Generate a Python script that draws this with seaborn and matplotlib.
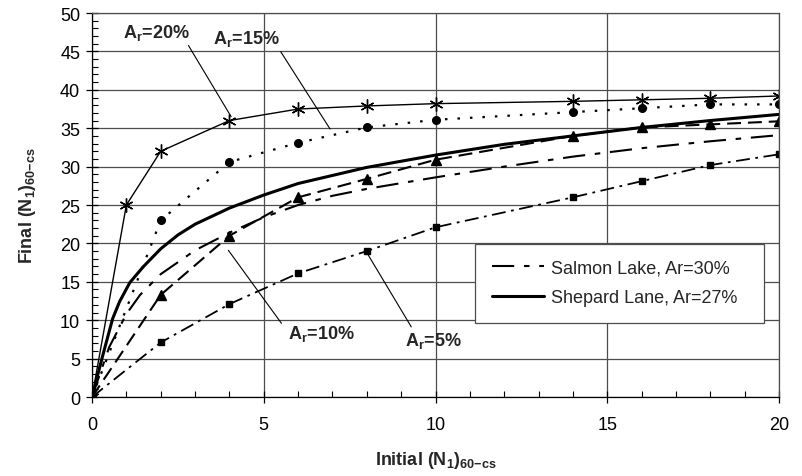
import matplotlib
matplotlib.use("Agg")
import matplotlib.pyplot as plt
from matplotlib.ticker import MultipleLocator
import seaborn as sns

X_MARK = [0, 1, 2, 4, 6, 8, 10, 14, 16, 18, 20]
AR20 = [0, 25.0, 32.0, 36.0, 37.5, 37.9, 38.2, 38.5, 38.7, 38.9, 39.2]
X_MARK2 = [0, 2, 4, 6, 8, 10, 14, 16, 18, 20]
AR15 = [0, 23.0, 30.6, 33.1, 35.1, 36.1, 37.1, 37.6, 38.1, 38.1]
AR10 = [0, 13.3, 21.0, 26.0, 28.4, 30.9, 34.0, 35.1, 35.5, 35.9]
AR5 = [0, 7.1, 12.1, 16.1, 19.0, 22.1, 26.0, 28.1, 30.2, 31.6]

X_SALMON = [0, 0.5, 1, 1.4, 2, 3, 4, 5, 6, 7, 8, 10, 12, 14, 16, 18, 20]
SALMON = [0, 6.5, 10.8, 13.3, 16.0, 19.1, 21.4, 23.4, 25.0, 26.2, 27.1, 28.6,
          30.0, 31.3, 32.4, 33.3, 34.1]
X_SHEPARD = [0, 0.3, 0.6, 0.8, 1.1, 1.5, 2, 2.5, 3, 4, 5, 6, 8, 10, 12, 14,
             16, 18, 20]
SHEPARD = [0, 5.2, 10.2, 12.4, 14.9, 17.0, 19.3, 21.1, 22.5, 24.6, 26.3, 27.8,
           29.9, 31.5, 32.9, 34.0, 35.1, 36.0, 36.8]

LEGEND_LABELS = ["Salmon Lake, Ar=30%", "Shepard Lane, Ar=27%"]
AR_LABELS = [r"A$\mathbf{_r}$=20%", r"A$\mathbf{_r}$=15%",
             r"A$\mathbf{_r}$=10%", r"A$\mathbf{_r}$=5%"]
# text centre, point the leader goes to, where the leader leaves the text box
AR_TEXT_POS = [(1.88, 47.5), (4.50, 46.7), (6.68, 8.3), (9.93, 7.4)]
AR_LEADER_END = [(4.05, 36.5), (6.93, 34.9), (3.97, 19.1), (8.0, 18.8)]
AR_RELPOS = [(0.93, 0.1), (0.97, 0.05), (-0.1, 1.0), (0.15, 1.0)]

sns.set_style("white")
plt.rcParams["font.family"] = ["Liberation Sans", "DejaVu Sans"]
plt.rcParams["mathtext.fontset"] = "custom"
plt.rcParams["mathtext.rm"] = "Liberation Sans"
plt.rcParams["mathtext.bf"] = "Liberation Sans:bold"
plt.rcParams["mathtext.it"] = "Liberation Sans:italic"
plt.rcParams["lines.scale_dashes"] = False

fig = plt.figure(figsize=(8.03, 4.77), dpi=100)
ax = fig.add_axes([0.1146, 0.1656, 0.8555, 0.805])


def draw(xs, ys, lw, dashes=None, marker=None, ms=0):
    sns.lineplot(x=xs, y=ys, ax=ax, color="black", lw=lw, marker=marker,
                 markersize=ms, mec="black", mfc="black", mew=1.0,
                 errorbar=None, legend=False)
    line = ax.lines[-1]
    if dashes:
        line.set_dashes(dashes)
    return line


draw(X_MARK, AR20, 1.0, marker=(6, 2, 0), ms=10)
draw(X_MARK2, AR15, 1.6, dashes=(1.8, 7.2), marker="o", ms=5.5)
draw(X_MARK2, AR10, 1.5, dashes=(10, 5), marker="^", ms=7)
draw(X_MARK2, AR5, 1.3, dashes=(10, 4, 2, 4), marker="s", ms=4.5)
salmon_line = draw(X_SALMON, SALMON, 1.5, dashes=(16, 7, 4, 7))
shepard_line = draw(X_SHEPARD, SHEPARD, 2.2)

for txt, pos, end, rel in zip(AR_LABELS, AR_TEXT_POS, AR_LEADER_END, AR_RELPOS):
    ax.annotate(txt, xy=end, xytext=pos, ha="center", va="center",
                fontsize=13, fontweight="bold",
                arrowprops=dict(arrowstyle="-", lw=0.8, color="black",
                                relpos=rel, shrinkA=0, shrinkB=0))

ax.set_xlim(0, 20)
ax.set_ylim(0, 50)
ax.xaxis.set_major_locator(MultipleLocator(5))
ax.yaxis.set_major_locator(MultipleLocator(5))
ax.xaxis.set_minor_locator(MultipleLocator(1))
ax.yaxis.set_minor_locator(MultipleLocator(1))
ax.grid(True, which="major", color="0.3", lw=0.9)
for sp in ax.spines.values():
    sp.set_color("0.3")
    sp.set_linewidth(0.9)
ax.spines["left"].set_color("black")
ax.spines["bottom"].set_color("black")
ax.tick_params(which="major", direction="inout", length=9, width=0.9,
               labelsize=13, colors="black")
ax.tick_params(which="minor", direction="in", length=4, width=0.8,
               colors="black")
ax.tick_params(axis="x", which="major", pad=9)
ax.tick_params(axis="y", which="major", pad=4)
ax.tick_params(left=True, bottom=True, which="both")

ax.set_xlabel(r"Initial (N$\mathbf{_1}$)$\mathbf{_{60{-}cs}}$",
              fontsize=13, fontweight="bold", labelpad=12)
ax.set_ylabel(r"Final (N$\mathbf{_1}$)$\mathbf{_{60{-}cs}}$",
              fontsize=13, fontweight="bold", labelpad=16)

leg = ax.legend([salmon_line, shepard_line], LEGEND_LABELS,
                loc="lower left", bbox_to_anchor=(0.545, 0.17, 0.446, 0.191),
                mode="expand", fontsize=13, handlelength=2.9,
                handletextpad=0.4, borderpad=0.9, labelspacing=0.7,
                fancybox=False, framealpha=1, edgecolor="0.3")
leg.get_frame().set_linewidth(0.9)

fig.savefig("out.png", dpi=100)
